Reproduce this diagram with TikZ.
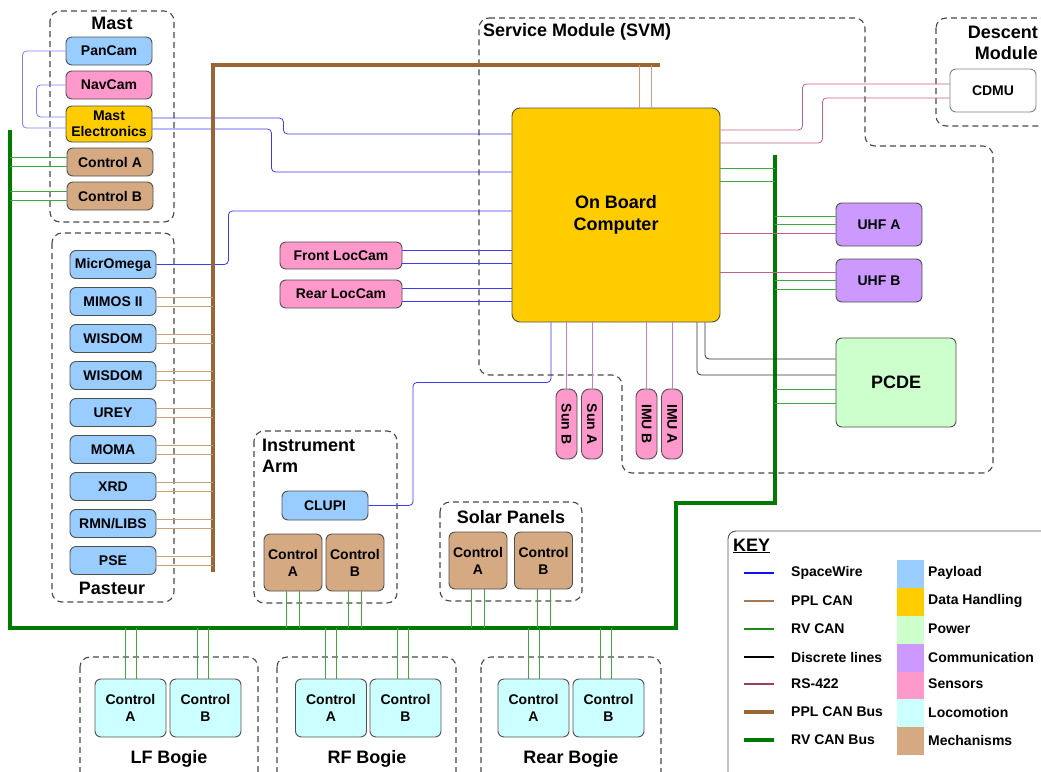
\documentclass[tikz,border=0pt]{standalone}
\usepackage{fontspec}
\setmainfont{Liberation Sans}
\usetikzlibrary{calc}
\definecolor{cPay}{HTML}{99CCFF}
\definecolor{cDH}{HTML}{FFCC00}
\definecolor{cPow}{HTML}{CCFFCC}
\definecolor{cCom}{HTML}{CC99FF}
\definecolor{cSen}{HTML}{FF99CC}
\definecolor{cLoc}{HTML}{CCFFFF}
\definecolor{cMech}{HTML}{D5A982}
\definecolor{cBord}{HTML}{505050}
\definecolor{cGrp}{HTML}{484848}
\definecolor{cSW}{HTML}{3C3CF5}
\definecolor{cSWl}{HTML}{8080FF}
\definecolor{cPPL}{HTML}{C9A07A}
\definecolor{cRV}{HTML}{40A840}
\definecolor{cRS}{HTML}{C0608F}
\definecolor{cSens}{HTML}{C07FC8}
\definecolor{cPPLbus}{HTML}{9A6535}
\definecolor{cRVbus}{HTML}{007A00}
\definecolor{cKSW}{HTML}{1010F0}
\definecolor{cKPPL}{HTML}{A87850}
\definecolor{cKRV}{HTML}{1A8A1A}
\definecolor{cKRS}{HTML}{A03A6A}
\begin{document}
\begin{tikzpicture}[x=1pt,y=-1pt,
 box/.style={draw=cBord,line width=0.9pt,rounded corners=6pt,inner sep=1pt,align=center,font=\fontsize{14}{16.5}\selectfont\bfseries},
 box2/.style={box,font=\fontsize{14}{17}\selectfont\bfseries},
 sz/.style 2 args={minimum width=#1pt,minimum height=#2pt},
 grp/.style={draw=cGrp,line width=1.1pt,dash pattern=on 6pt off 4pt,rounded corners=10pt},
 gtitle/.style={font=\fontsize{18}{21}\selectfont\bfseries,inner sep=0pt,align=left},
 sw/.style={draw=cSW,line width=0.8pt,rounded corners=4pt},
 swl/.style={draw=cSWl,line width=0.8pt,rounded corners=4pt},
 ppl/.style={draw=cPPL,line width=0.8pt},
 rv/.style={draw=cRV,line width=0.8pt},
 rs/.style={draw=cRS,line width=0.8pt,rounded corners=4pt},
 sens/.style={draw=cSens,line width=0.8pt},
 dl/.style={draw=black!80,line width=0.8pt,rounded corners=4pt},
 klab/.style={anchor=west,inner sep=0pt,font=\fontsize{14}{16}\selectfont\bfseries},
 sensor/.style={box,fill=cSen,rotate=-90,sz={70}{21},rounded corners=8pt,inner sep=0pt},
]
\useasboundingbox (0,0) rectangle (1041,771);
\clip (0,0) rectangle (1041,771);

% ---------- groups ----------
\draw[grp] (50,11) rectangle (174,222);
\node[gtitle] (tmast) at (112,23) {Mast};
\draw[grp] (52,233) rectangle (174,602);
\node[gtitle] (tpast) at (112,588) {Pasteur};
\draw[grp] (479,18) -- (865,18) -- (865,146) -- (993,146) -- (993,473) -- (622,473) -- (622,375) -- (479,375) -- cycle;
\node[gtitle,anchor=west] (tsvm) at (483,32) {Service Module (SVM)};
\draw[grp] (936,18) rectangle (1075,126);
\node[gtitle,anchor=north east,align=right] (tdesc) at (1038,25.5) {Descent\\Module};
\draw[grp] (254,431) rectangle (397,603);
\node[gtitle,anchor=north west] (tia) at (262,438.5) {Instrument\\Arm};
\draw[grp] (440,502) rectangle (582,601);
\node[gtitle] (tsp) at (511,517) {Solar Panels};
\draw[grp] (80,657) rectangle (258,795);
\node[gtitle] (tlf) at (169,759) {LF Bogie};
\draw[grp] (277,657) rectangle (456,795);
\node[gtitle] (trf) at (367,759) {RF Bogie};
\draw[grp] (481,657) rectangle (661,795);
\node[gtitle] (trb) at (571,759) {Rear Bogie};

% ---------- nodes ----------
\node[box,fill=cPay,sz={86}{28}] (pancam) at (109,51) {PanCam};
\node[box,fill=cSen,sz={86}{28}] (navcam) at (109,85) {NavCam};
\node[box,fill=cDH,sz={86}{36}] (mastel) at (109,124) {Mast\\Electronics};
\node[box,fill=cMech,sz={86}{28}] (mctla) at (110,162) {Control A};
\node[box,fill=cMech,sz={86}{28}] (mctlb) at (110,196) {Control B};

\node[box,fill=cPay,sz={86}{28}] (microm) at (113,264.5) {MicrOmega};
\node[box,fill=cPay,sz={86}{28}] (mimos) at (113,301.5) {MIMOS II};
\node[box,fill=cPay,sz={86}{28}] (wis1) at (113,338.5) {WISDOM};
\node[box,fill=cPay,sz={86}{28}] (wis2) at (113,375.5) {WISDOM};
\node[box,fill=cPay,sz={86}{28}] (urey) at (113,412.5) {UREY};
\node[box,fill=cPay,sz={86}{28}] (moma) at (113,449.5) {MOMA};
\node[box,fill=cPay,sz={86}{28}] (xrd) at (113,486.5) {XRD};
\node[box,fill=cPay,sz={86}{28}] (rmn) at (113,523.5) {RMN/LIBS};
\node[box,fill=cPay,sz={86}{28}] (pse) at (113,560.5) {PSE};

\node[box,fill=cSen,sz={122}{27}] (flc) at (341,255.5) {Front LocCam};
\node[box,fill=cSen,sz={122}{28}] (rlc) at (341,294) {Rear LocCam};

\node[box,fill=cDH,sz={208}{214},rounded corners=8pt,font=\fontsize{18}{22}\selectfont\bfseries] (obc) at (616,215) {On Board\\Computer};

\node[box,fill=white,draw=gray,sz={86}{43}] (cdmu) at (993,90.5) {CDMU};
\node[box,fill=cCom,sz={86}{43}] (uhfa) at (879,224.5) {UHF A};
\node[box,fill=cCom,sz={86}{43}] (uhfb) at (879,280.5) {UHF B};
\node[box,fill=cPow,sz={120}{89},font=\fontsize{18}{22}\selectfont\bfseries] (pcde) at (896,382.5) {PCDE};

\node[sensor] (sunb) at (566.5,424) {Sun B};
\node[sensor] (suna) at (592,424) {Sun A};
\node[sensor] (imub) at (646.5,424) {IMU B};
\node[sensor] (imua) at (672,424) {IMU A};

\node[box,fill=cPay,sz={86}{29}] (clupi) at (325,505.5) {CLUPI};
\node[box2,fill=cMech,sz={58}{57}] (iaa) at (293,562.5) {Control\\A};
\node[box2,fill=cMech,sz={58}{57}] (iab) at (355,562.5) {Control\\B};
\node[box2,fill=cMech,sz={58}{57}] (spa) at (478,560.5) {Control\\A};
\node[box2,fill=cMech,sz={58}{57}] (spb) at (543.5,560.5) {Control\\B};

\node[box2,fill=cLoc,sz={71}{58}] (lfa) at (130.5,708) {Control\\A};
\node[box2,fill=cLoc,sz={71}{58}] (lfb) at (205.5,708) {Control\\B};
\node[box2,fill=cLoc,sz={71}{58}] (rfa) at (331,708) {Control\\A};
\node[box2,fill=cLoc,sz={71}{58}] (rfb) at (405.5,708) {Control\\B};
\node[box2,fill=cLoc,sz={71}{58}] (ra) at (533.5,708) {Control\\A};
\node[box2,fill=cLoc,sz={71}{58}] (rb) at (608.5,708) {Control\\B};

% ---------- SpaceWire ----------
\draw[swl] (pancam.west) -- ++(-43,0) |- ([yshift=-4pt]mastel.west);
\draw[swl] (navcam.west) -- ++(-29,0) |- ([yshift=7pt]mastel.west);
\draw[sw] ([yshift=6pt]mastel.east) -- ++(131,0) |- ([yshift=81pt]obc.west);
\draw[sw] ([yshift=-5pt]mastel.east) -- ++(119,0) |- ([yshift=43pt]obc.west);
\draw[sw] (microm.east) -- ++(72,0) |- ([yshift=4pt]obc.west);
\draw[sw] ([yshift=5.5pt]flc.east) coordinate (t) -- (t -| obc.west);
\draw[sw] ([yshift=-7.5pt]flc.east) coordinate (t) -- (t -| obc.west);
\draw[sw] ([yshift=6pt]rlc.east) coordinate (t) -- (t -| obc.west);
\draw[sw] ([yshift=-7pt]rlc.east) coordinate (t) -- (t -| obc.west);
\draw[sw] ([xshift=-65pt]obc.south) |- ++(-138,60) |- (clupi.east);

% ---------- PPL CAN ----------
\coordinate (pplc) at (213,65);
\draw[draw=cPPLbus,line width=4pt] (213,572) |- (660,65);
\foreach \n in {mimos,wis1,wis2,urey,moma,xrd,rmn,pse}{
  \draw[ppl] ([yshift=4.5pt]\n.east) coordinate (t) -- (t -| pplc);
  \draw[ppl] ([yshift=-4.5pt]\n.east) coordinate (t) -- (t -| pplc);
}
\draw[ppl] ([xshift=23pt]obc.north) coordinate (t) -- (t |- pplc);
\draw[ppl] ([xshift=35pt]obc.north) coordinate (t) -- (t |- pplc);

% ---------- RV CAN ----------
\coordinate (rvl) at (10,130);
\coordinate (rvb) at (10,628);
\coordinate (rvr) at (775,155);
\draw[draw=cRVbus,line width=4pt] (rvl) |- (676,628) |- (775,503) -- (rvr);
\foreach \n in {mctla,mctlb}{
  \draw[rv] ([yshift=4.5pt]\n.west) coordinate (t) -- (t -| rvl);
  \draw[rv] ([yshift=-4.5pt]\n.west) coordinate (t) -- (t -| rvl);
}
\draw[rv] ([yshift=47pt]obc.east) coordinate (t) -- (t -| rvr);
\draw[rv] ([yshift=34pt]obc.east) coordinate (t) -- (t -| rvr);
\draw[rv] ([yshift=8.5pt]uhfa.west) coordinate (t) -- (t -| rvr);
\draw[rv] (uhfa.west) -- (uhfa.west -| rvr);
\draw[rv] (uhfb.west) -- (uhfb.west -| rvr);
\draw[rv] ([yshift=-8.5pt]uhfb.west) coordinate (t) -- (t -| rvr);
\draw[rv] ([yshift=-6.5pt]pcde.west) coordinate (t) -- (t -| rvr);
\draw[rv] ([yshift=-20.5pt]pcde.west) coordinate (t) -- (t -| rvr);
\foreach \n in {iaa,iab,spa,spb}{
  \draw[rv] ([xshift=-6.5pt]\n.south) coordinate (t) -- (t |- rvb);
  \draw[rv] ([xshift=6.5pt]\n.south) coordinate (t) -- (t |- rvb);
}
\foreach \n in {lfa,rfa,ra}{
  \draw[rv] ([xshift=-5.5pt]\n.north) coordinate (t) -- (t |- rvb);
  \draw[rv] ([xshift=5.5pt]\n.north) coordinate (t) -- (t |- rvb);
}
\foreach \n in {lfb,rfb,rb}{
  \draw[rv] ([xshift=-8pt]\n.north) coordinate (t) -- (t |- rvb);
  \draw[rv] ([xshift=3pt]\n.north) coordinate (t) -- (t |- rvb);
}

% ---------- RS-422 ----------
\draw[rs] ([yshift=85pt]obc.east) -- ++(82,0) |- ([yshift=6.5pt]cdmu.west);
\draw[rs] ([yshift=72pt]obc.east) -- ++(102,0) |- ([yshift=-7.5pt]cdmu.west);
\draw[rs] ([yshift=-8.5pt]uhfa.west) coordinate (t) -- (t -| obc.east);
\draw[rs] ([yshift=8.5pt]uhfb.west) coordinate (t) -- (t -| obc.east);
\foreach \n in {sunb,suna,imub,imua}{
  \draw[sens] (\n.west) -- (\n.west |- obc.south);
}

% ---------- discrete ----------
\draw[dl] ([xshift=89pt]obc.south) |- ([yshift=23.5pt]pcde.west);
\draw[dl] ([xshift=81pt]obc.south) |- ([yshift=7.5pt]pcde.west);

% ---------- KEY ----------
\draw[draw=cBord,line width=0.9pt,rounded corners=8pt] (728,531) rectangle (1075,805);
\node[gtitle,anchor=west] (tkey) at (733,546) {\underline{KEY}};
\draw[draw=cKSW,line width=1.5pt] (744,573) -- (774,573);
\draw[draw=cKPPL,line width=1.5pt] (744,601) -- (774,601);
\draw[draw=cKRV,line width=1.5pt] (744,629) -- (774,629);
\draw[draw=black,line width=1.5pt] (744,657) -- (774,657);
\draw[draw=cKRS,line width=1.5pt] (744,684) -- (774,684);
\draw[draw=cPPLbus,line width=3.5pt] (744,712) -- (774,712);
\draw[draw=cRVbus,line width=3.5pt] (744,740) -- (774,740);
\node[klab] (k1) at (791,573) {SpaceWire};
\node[klab] (k2) at (791,601) {PPL CAN};
\node[klab] (k3) at (791,629) {RV CAN};
\node[klab] (k4) at (791,657) {Discrete lines};
\node[klab] (k5) at (791,684) {RS-422};
\node[klab] (k6) at (791,712) {PPL CAN Bus};
\node[klab] (k7) at (791,740) {RV CAN Bus};
\fill[cPay] (897,560) rectangle (924,588);
\fill[cDH] (897,588) rectangle (924,616);
\fill[cPow] (897,616) rectangle (924,643.5);
\fill[cCom] (897,643.5) rectangle (924,671.5);
\fill[cSen] (897,671.5) rectangle (924,699);
\fill[cLoc] (897,699) rectangle (924,727);
\fill[cMech] (897,727) rectangle (924,755);
\node[klab] (s1) at (928,573) {Payload};
\node[klab] (s2) at (928,601) {Data Handling};
\node[klab] (s3) at (928,629) {Power};
\node[klab] (s4) at (928,657) {Communication};
\node[klab] (s5) at (928,684) {Sensors};
\node[klab] (s6) at (928,712) {Locomotion};
\node[klab] (s7) at (928,740) {Mechanisms};
\end{tikzpicture}
\end{document}
